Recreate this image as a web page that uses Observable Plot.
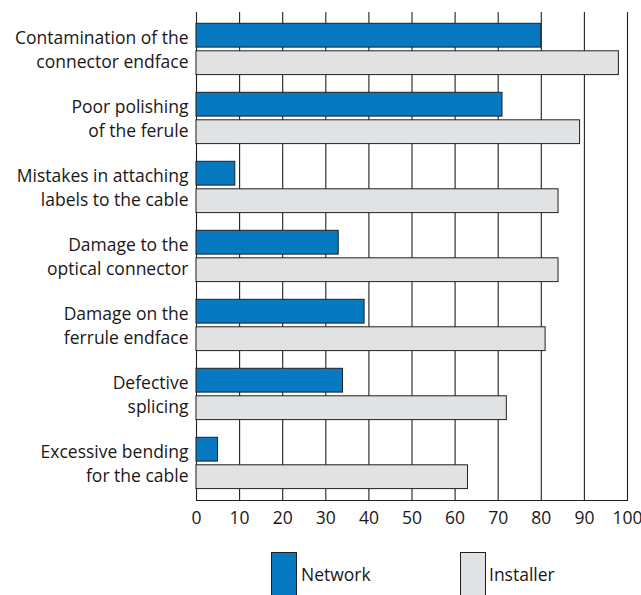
<!DOCTYPE html>
<html><head><meta charset="utf-8">
<script src="https://cdn.jsdelivr.net/npm/d3@7"></script>
<script src="https://cdn.jsdelivr.net/npm/@observablehq/plot@0.6"></script>
<style>
body{margin:0;background:#fff;font-family:"Open Sans",sans-serif;color:#1a1718;}
#legend{position:relative;width:641px;height:60px;}
.sw{position:absolute;top:17px;width:26px;height:60px;border:1px solid #231f20;box-sizing:border-box;}
.lb{position:absolute;top:28px;font-size:17.5px;line-height:22px;}
</style>
</head><body><div id="chart"></div>
<div id="legend"></div>
<script>
const categories = [
  "Contamination of the\nconnector endface",
  "Poor polishing\nof the ferule",
  "Mistakes in attaching\nlabels to the cable",
  "Damage to the\noptical connector",
  "Damage on the\nferrule endface",
  "Defective\nsplicing",
  "Excessive bending\nfor the cable"
];
const series = ["Network", "Installer"];
const network = [80, 71, 9, 33, 39, 34, 5];
const installer = [98, 89, 84, 84, 81, 72, 63];
const xTicks = [0, 10, 20, 30, 40, 50, 60, 70, 80, 90, 100];
const colors = ["#0779c1", "#e1e2e4"];

const netData = categories.map((c, i) => ({category: c, series: "Network", value: network[i]}));
const instData = categories.map((c, i) => ({category: c, series: "Installer", value: installer[i]}));

const chart = Plot.plot({
  width: 641, height: 535,
  marginLeft: 196, marginRight: 14, marginTop: 12, marginBottom: 35,
  style: {fontFamily: "Open Sans", fontSize: "17.5px", color: "#1a1718", background: "#fff"},
  x: {domain: [0, 100]},
  y: {domain: categories, padding: 0},
  color: {domain: series, range: colors},
  marks: [
    Plot.ruleX(xTicks, {stroke: "#231f20", strokeWidth: 1.1}),
    Plot.barX(netData, {y: "category", x: "value", fill: "series", stroke: "#231f20", strokeWidth: 1, insetTop: 8.3, insetBottom: 36.9}),
    Plot.barX(instData, {y: "category", x: "value", fill: "series", stroke: "#231f20", strokeWidth: 1, insetTop: 35.8, insetBottom: 9.4}),
    Plot.frame({anchor: "bottom", stroke: "#231f20", strokeWidth: 1.1}),
    Plot.axisX({ticks: xTicks, tickSize: 0, tickPadding: 11, label: null, fontSize: 17.5}),
    Plot.axisY({tickSize: 0, tickPadding: 8, label: null, fontSize: 17.5, lineHeight: 1.39, dy: -2})
  ]
});
document.getElementById("chart").appendChild(chart);

const legend = document.getElementById("legend");
const legendX = [[271, 301], [460, 489]];
series.forEach((s, i) => {
  const sw = document.createElement("div");
  sw.className = "sw";
  sw.style.left = legendX[i][0] + "px";
  sw.style.background = colors[i];
  legend.appendChild(sw);
  const lb = document.createElement("div");
  lb.className = "lb";
  lb.style.left = legendX[i][1] + "px";
  lb.textContent = s;
  legend.appendChild(lb);
});
</script>
</body></html>
